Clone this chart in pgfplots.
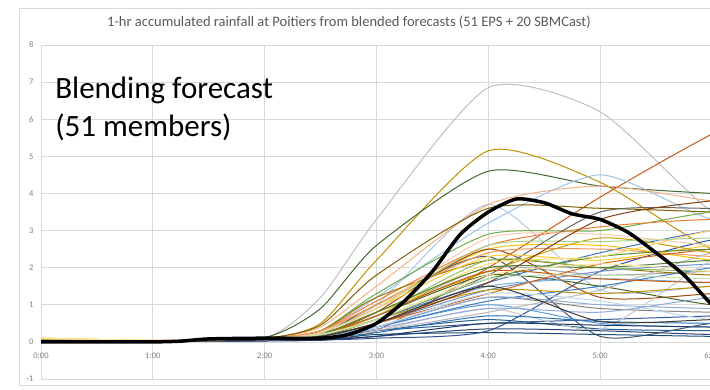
\documentclass[border=0pt]{standalone}
\usepackage{pgfplots}
\pgfplotsset{compat=1.18}
\usepackage{fontspec}
\setmainfont{Carlito}
\definecolor{txt}{HTML}{595959}
\definecolor{tick}{HTML}{7F7F7F}
\definecolor{gridc}{HTML}{D9D9D9}
\begin{document}
\begin{tikzpicture}
\begin{axis}[
  scale only axis, width=671pt, height=334pt,
  xmin=0, xmax=6, ymin=-1, ymax=8,
  xtick={0,1,2,3,4,5,6},
  xticklabels={0:00,1:00,2:00,3:00,4:00,5:00,6:00},
  ytick={-1,0,1,2,3,4,5,6,7,8},
  grid=major,
  grid style={gridc, line width=0.7pt},
  axis line style={draw=none},
  tick style={draw=none},
  tick label style={font=\fontsize{8.5}{10}\selectfont, text=tick},
  /pgf/number format/assume math mode=true,
  xticklabel style={yshift=30pt},
  yticklabel style={xshift=-4pt},
  title={1-hr accumulated rainfall at Poitiers from blended forecasts (51 EPS + 20 SBMCast)},
  title style={at={(0.459,1)}, anchor=base, yshift=13pt, font=\fontsize{14.5}{16}\selectfont, text=txt},
  every axis plot/.append style={smooth, tension=0.4, line width=1pt, no markers},
]
% ---- 51 members ----
\addplot[color={rgb,255:red,191;green,191;blue,191}] coordinates {(0,0.05)(1,0.02)(2,0.1)(2.5,1.2)(3,3.3)(4,6.85)(5,6.2)(6,3.5)(7,2.0)};
\addplot[color={rgb,255:red,191;green,144;blue,0}] coordinates {(0,0.08)(1,0.03)(2,0.08)(2.5,0.5)(3,2.2)(4,5.15)(5,4.3)(6,2.5)(7,1.8)};
\addplot[color={rgb,255:red,67;green,104;blue,43}] coordinates {(0,0.03)(1,0.02)(2,0.12)(2.5,0.9)(3,2.6)(4,4.6)(5,4.2)(6,4.0)(7,3.9)};
\addplot[color={rgb,255:red,197;green,90;blue,17}] coordinates {(0,0.02)(1,0.01)(2,0.05)(2.5,0.05)(3,0.3)(4,2.0)(5,3.9)(6,5.6)(7,7.0)};
\addplot[color={rgb,255:red,157;green,195;blue,230}] coordinates {(0,0.05)(1,0.02)(2,0.08)(2.5,0.3)(3,1.2)(4,3.2)(5,4.5)(6,3.3)(7,3.0)};
\addplot[color={rgb,255:red,180;green,199;blue,231}] coordinates {(0,0.06)(1,0.03)(2,0.08)(2.5,0.3)(3,1.0)(4,3.7)(5,1.4)(6,1.5)(7,1.6)};
\addplot[color={rgb,255:red,244;green,177;blue,131}] coordinates {(0,0.1)(1,0.04)(2,0.09)(2.5,0.4)(3,1.5)(4,3.7)(5,4.2)(6,3.8)(7,3.6)};
\addplot[color={rgb,255:red,127;green,96;blue,0}] coordinates {(0,0.04)(1,0.02)(2,0.1)(2.5,0.45)(3,1.8)(4,3.6)(5,3.6)(6,3.5)(7,3.4)};
\addplot[color={rgb,255:red,68;green,84;blue,106}] coordinates {(0,0.02)(1,0.01)(2,0.06)(2.5,0.2)(3,1.0)(4,2.3)(5,0.15)(6,0.5)(7,0.7)};
\addplot[color={rgb,255:red,47;green,85;blue,151}] coordinates {(0,0.01)(1,0.01)(2,0.04)(2.5,0.05)(3,0.1)(4,0.3)(5,1.9)(6,2.75)(7,3.0)};
\addplot[color={rgb,255:red,112;green,173;blue,71}] coordinates {(0,0.05)(1,0.02)(2,0.08)(2.5,0.3)(3,1.3)(4,2.9)(5,3.0)(6,3.5)(7,3.6)};
\addplot[color={rgb,255:red,237;green,125;blue,49}] coordinates {(0,0.07)(1,0.03)(2,0.08)(2.5,0.3)(3,1.1)(4,2.6)(5,3.1)(6,3.3)(7,3.2)};
\addplot[color={rgb,255:red,255;green,192;blue,0}] coordinates {(0,0.1)(1,0.04)(2,0.08)(2.5,0.3)(3,1.0)(4,2.5)(5,2.6)(6,2.2)(7,2.0)};
\addplot[color={rgb,255:red,68;green,114;blue,196}] coordinates {(0,0.03)(1,0.02)(2,0.06)(2.5,0.2)(3,0.6)(4,1.6)(5,2.4)(6,3.0)(7,3.2)};
\addplot[color={rgb,255:red,91;green,155;blue,213}] coordinates {(0,0.02)(1,0.01)(2,0.05)(2.5,0.15)(3,0.4)(4,1.0)(5,0.5)(6,0.4)(7,0.4)};
\addplot[color={rgb,255:red,165;green,165;blue,165}] coordinates {(0,0.05)(1,0.02)(2,0.07)(2.5,0.2)(3,0.7)(4,2.0)(5,1.8)(6,1.9)(7,2.0)};
\addplot[color={rgb,255:red,38;green,68;blue,120}] coordinates {(0,0.01)(1,0.01)(2,0.03)(2.5,0.05)(3,0.15)(4,0.35)(5,0.3)(6,0.2)(7,0.2)};
\addplot[color={rgb,255:red,158;green,72;blue,14}] coordinates {(0,0.04)(1,0.02)(2,0.07)(2.5,0.2)(3,0.8)(4,2.5)(5,1.2)(6,1.3)(7,1.5)};
\addplot[color={rgb,255:red,99;green,99;blue,99}] coordinates {(0,0.03)(1,0.02)(2,0.06)(2.5,0.2)(3,0.6)(4,1.8)(5,3.5)(6,3.6)(7,3.6)};
\addplot[color={rgb,255:red,153;green,115;blue,0}] coordinates {(0,0.08)(1,0.03)(2,0.09)(2.5,0.3)(3,1.2)(4,2.2)(5,2.0)(6,1.8)(7,1.8)};
\addplot[color={rgb,255:red,37;green,94;blue,145}] coordinates {(0,0.02)(1,0.01)(2,0.04)(2.5,0.1)(3,0.3)(4,0.6)(5,0.35)(6,0.3)(7,0.3)};
\addplot[color={rgb,255:red,67;green,104;blue,43}] coordinates {(0,0.04)(1,0.02)(2,0.07)(2.5,0.2)(3,0.7)(4,1.8)(5,1.5)(6,1.0)(7,0.9)};
\addplot[color={rgb,255:red,105;green,142;blue,208}] coordinates {(0,0.03)(1,0.02)(2,0.05)(2.5,0.15)(3,0.5)(4,1.4)(5,1.9)(6,2.1)(7,2.2)};
\addplot[color={rgb,255:red,241;green,151;blue,90}] coordinates {(0,0.09)(1,0.03)(2,0.08)(2.5,0.3)(3,1.0)(4,2.4)(5,2.5)(6,2.3)(7,2.2)};
\addplot[color={rgb,255:red,183;green,183;blue,183}] coordinates {(0,0.05)(1,0.02)(2,0.05)(2.5,0.1)(3,0.3)(4,0.8)(5,1.4)(6,2.4)(7,2.8)};
\addplot[color={rgb,255:red,255;green,205;blue,51}] coordinates {(0,0.1)(1,0.04)(2,0.08)(2.5,0.25)(3,0.9)(4,2.3)(5,2.2)(6,2.6)(7,2.8)};
\addplot[color={rgb,255:red,124;green,175;blue,221}] coordinates {(0,0.03)(1,0.02)(2,0.05)(2.5,0.15)(3,0.5)(4,1.5)(5,1.7)(6,1.6)(7,1.6)};
\addplot[color={rgb,255:red,140;green,193;blue,104}] coordinates {(0,0.05)(1,0.02)(2,0.07)(2.5,0.2)(3,0.7)(4,2.2)(5,2.0)(6,1.9)(7,1.9)};
\addplot[color={rgb,255:red,51;green,90;blue,161}] coordinates {(0,0.02)(1,0.01)(2,0.04)(2.5,0.1)(3,0.3)(4,0.5)(5,0.6)(6,0.7)(7,0.8)};
\addplot[color={rgb,255:red,210;green,96;blue,18}] coordinates {(0,0.04)(1,0.02)(2,0.06)(2.5,0.15)(3,0.5)(4,1.3)(5,2.1)(6,2.5)(7,2.7)};
\addplot[color={rgb,255:red,132;green,132;blue,132}] coordinates {(0,0.03)(1,0.02)(2,0.05)(2.5,0.1)(3,0.4)(4,1.2)(5,0.9)(6,0.8)(7,0.8)};
\addplot[color={rgb,255:red,204;green,154;blue,0}] coordinates {(0,0.08)(1,0.03)(2,0.07)(2.5,0.2)(3,0.8)(4,1.9)(5,2.8)(6,2.4)(7,2.0)};
\addplot[color={rgb,255:red,60;green,125;blue,196}] coordinates {(0,0.02)(1,0.01)(2,0.05)(2.5,0.1)(3,0.4)(4,1.1)(5,1.5)(6,2.0)(7,2.3)};
\addplot[color={rgb,255:red,90;green,138;blue,57}] coordinates {(0,0.04)(1,0.02)(2,0.06)(2.5,0.15)(3,0.6)(4,1.7)(5,2.3)(6,2.5)(7,2.5)};
\addplot[color={rgb,255:red,143;green,170;blue,220}] coordinates {(0,0.03)(1,0.01)(2,0.05)(2.5,0.1)(3,0.4)(4,1.2)(5,1.0)(6,0.9)(7,0.9)};
\addplot[color={rgb,255:red,255;green,217;blue,102}] coordinates {(0,0.1)(1,0.04)(2,0.07)(2.5,0.2)(3,0.7)(4,2.1)(5,2.3)(6,3.0)(7,3.2)};
\addplot[color={rgb,255:red,169;green,209;blue,142}] coordinates {(0,0.06)(1,0.02)(2,0.08)(2.5,0.25)(3,0.9)(4,2.6)(5,2.7)(6,2.8)(7,2.8)};
\addplot[color={rgb,255:red,201;green,201;blue,201}] coordinates {(0,0.05)(1,0.02)(2,0.05)(2.5,0.1)(3,0.3)(4,0.9)(5,0.35)(6,2.2)(7,3.0)};
\addplot[color={rgb,255:red,31;green,78;blue,121}] coordinates {(0,0.01)(1,0.01)(2,0.03)(2.5,0.05)(3,0.2)(4,0.25)(5,0.2)(6,0.15)(7,0.15)};
\addplot[color={rgb,255:red,197;green,90;blue,17}] coordinates {(0,0.04)(1,0.02)(2,0.06)(2.5,0.2)(3,0.7)(4,1.9)(5,1.7)(6,1.6)(7,1.7)};
\addplot[color={rgb,255:red,191;green,144;blue,0}] coordinates {(0,0.07)(1,0.03)(2,0.06)(2.5,0.2)(3,0.6)(4,1.4)(5,1.3)(6,1.5)(7,1.7)};
\addplot[color={rgb,255:red,46;green,117;blue,182}] coordinates {(0,0.02)(1,0.01)(2,0.04)(2.5,0.1)(3,0.25)(4,0.7)(5,0.55)(6,0.5)(7,0.5)};
\addplot[color={rgb,255:red,84;green,130;blue,53}] coordinates {(0,0.04)(1,0.02)(2,0.07)(2.5,0.2)(3,0.8)(4,2.0)(5,2.0)(6,2.2)(7,2.3)};
\addplot[color={rgb,255:red,248;green,203;blue,173}] coordinates {(0,0.09)(1,0.03)(2,0.08)(2.5,0.25)(3,0.9)(4,2.8)(5,2.9)(6,2.6)(7,2.5)};
\addplot[color={rgb,255:red,189;green,215;blue,238}] coordinates {(0,0.03)(1,0.01)(2,0.05)(2.5,0.1)(3,0.4)(4,1.3)(5,1.1)(6,0.6)(7,0.5)};
\addplot[color={rgb,255:red,32;green,56;blue,100}] coordinates {(0,0.01)(1,0.01)(2,0.03)(2.5,0.05)(3,0.15)(4,0.5)(5,0.45)(6,0.4)(7,0.4)};
\addplot[color={rgb,255:red,132;green,60;blue,12}] coordinates {(0,0.04)(1,0.02)(2,0.06)(2.5,0.15)(3,0.5)(4,1.6)(5,3.3)(6,3.8)(7,3.9)};
\addplot[color={rgb,255:red,255;green,230;blue,153}] coordinates {(0,0.1)(1,0.04)(2,0.07)(2.5,0.2)(3,0.6)(4,1.8)(5,2.1)(6,1.9)(7,1.8)};
\addplot[color={rgb,255:red,143;green,170;blue,220}] coordinates {(0,0.03)(1,0.01)(2,0.05)(2.5,0.1)(3,0.35)(4,0.9)(5,0.8)(6,1.2)(7,1.4)};
\addplot[color={rgb,255:red,197;green,224;blue,180}] coordinates {(0,0.05)(1,0.02)(2,0.06)(2.5,0.2)(3,0.6)(4,1.7)(5,1.8)(6,1.7)(7,1.7)};
\addplot[color={rgb,255:red,59;green,56;blue,56}] coordinates {(0,0.02)(1,0.01)(2,0.05)(2.5,0.15)(3,0.5)(4,1.5)(5,0.55)(6,0.6)(7,0.7)};
% ---- thick black line ----
\addplot[black, line width=3.5pt] coordinates {(0,0)(0.5,0)(1,0)(1.25,0.02)(1.5,0.08)(2,0.1)(2.5,0.1)(2.75,0.2)(3,0.5)(3.25,1.1)(3.5,1.9)(3.75,2.9)(4,3.5)(4.25,3.85)(4.5,3.75)(4.75,3.45)(5,3.3)(5.25,2.95)(5.5,2.4)(5.75,1.8)(6,1.0)(6.2,0.5)};
\node[anchor=north west, inner sep=0pt, align=left, text=black,
  font=\fontsize{31}{38}\selectfont] at (rel axis cs:0.021,0.905) {Blending forecast\\(51 members)};
\end{axis}
\draw[gridc, line width=0.7pt] (-22pt,-6pt) rectangle (700pt,371pt);
\pgfresetboundingbox
\path[use as bounding box] (-41pt,-10pt) rectangle (669pt,379pt);
\end{tikzpicture}
\end{document}
